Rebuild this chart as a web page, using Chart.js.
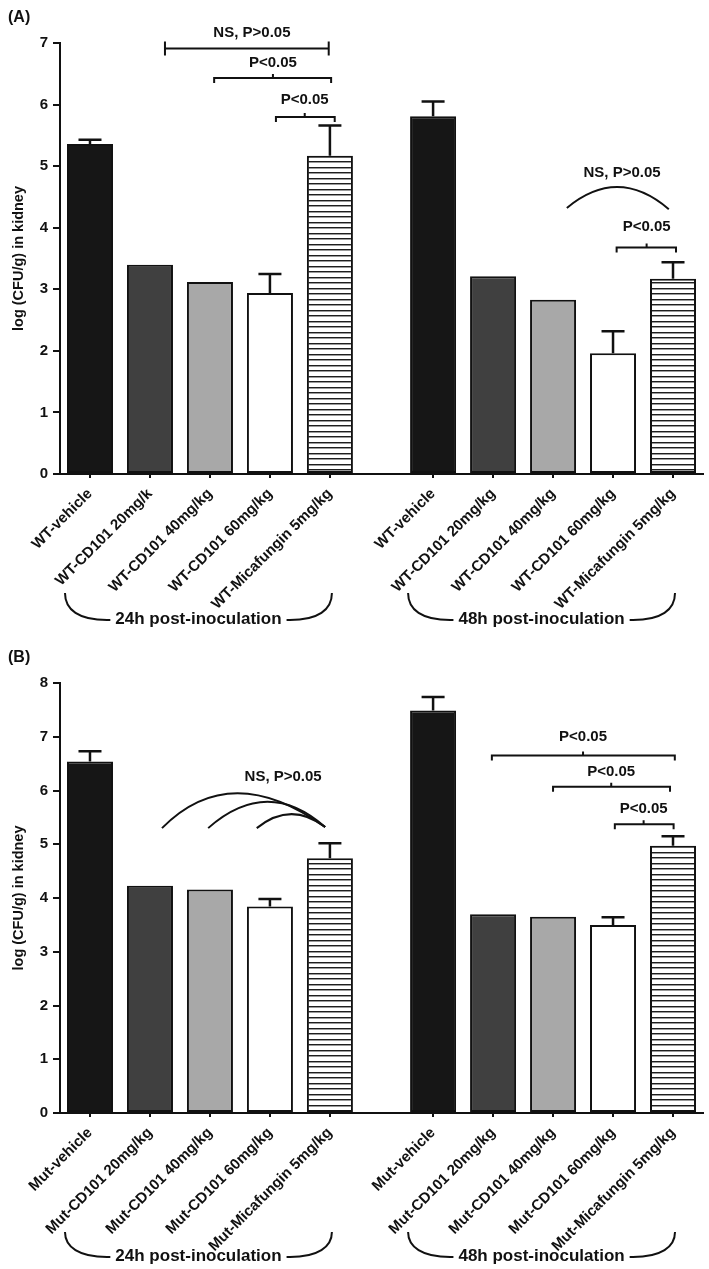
<!DOCTYPE html>
<html>
<head>
<meta charset="utf-8">
<script src="https://cdn.jsdelivr.net/npm/chart.js@4.4.1/dist/chart.umd.min.js"></script>
<style>
  body { margin: 0; background: #fff; }
  canvas { position: absolute; left: 0; }
  #chartA { top: 0; }
  #chartB { top: 630px; }
</style>
</head>
<body>
<canvas id="chartA" width="709" height="630"></canvas>
<canvas id="chartB" width="709" height="639"></canvas>
<script>
// categories
const labelsA = ['WT-vehicle', 'WT-CD101 20mg/k', 'WT-CD101 40mg/kg', 'WT-CD101 60mg/kg', 'WT-Micafungin 5mg/kg',
                 'WT-vehicle', 'WT-CD101 20mg/kg', 'WT-CD101 40mg/kg', 'WT-CD101 60mg/kg', 'WT-Micafungin 5mg/kg'];
const labelsB = ['Mut-vehicle', 'Mut-CD101 20mg/kg', 'Mut-CD101 40mg/kg', 'Mut-CD101 60mg/kg', 'Mut-Micafungin 5mg/kg',
                 'Mut-vehicle', 'Mut-CD101 20mg/kg', 'Mut-CD101 40mg/kg', 'Mut-CD101 60mg/kg', 'Mut-Micafungin 5mg/kg'];
const timeGroups = ['24h post-inoculation', '48h post-inoculation'];

// log(CFU/g) means and upper error (0 = no bar drawn)
const meansA = [5.36, 3.40, 3.12, 2.94, 5.17, 5.81, 3.21, 2.83, 1.96, 3.17];
const errA   = [0.07, 0, 0, 0.31, 0.49, 0.24, 0, 0, 0.36, 0.27];
const meansB = [6.54, 4.23, 4.16, 3.84, 4.74, 7.49, 3.70, 3.65, 3.50, 4.97];
const errB   = [0.19, 0, 0, 0.14, 0.28, 0.25, 0, 0, 0.14, 0.18];

const yMaxA = 7;
const yMaxB = 8;

// significance marks, in data units
const bracketsA = [
  { kind: 'cap', x1: 1.25, x2: 3.98, y: 6.91, tx: 2.70, ty: 7.16, text: 'NS, P>0.05' },
  { kind: 'brace', x1: 2.07, x2: 4.02, y: 6.43, tx: 3.05, ty: 6.67, text: 'P<0.05' },
  { kind: 'brace', x1: 3.10, x2: 4.08, y: 5.80, tx: 3.58, ty: 6.07, text: 'P<0.05' },
  { kind: 'brace', x1: 8.78, x2: 9.77, y: 3.68, tx: 9.28, ty: 4.01, text: 'P<0.05' }
];
const arcsA = [
  { x1: 7.95, y1: 4.32, x2: 9.65, y2: 4.30, px: 8.80, py: 4.66 }
];
const arcLabelA = { x: 8.87, y: 4.89, text: 'NS, P>0.05' };

const bracketsB = [
  { kind: 'brace', x1: 6.70, x2: 9.75, y: 6.65, tx: 8.22, ty: 6.99, text: 'P<0.05' },
  { kind: 'brace', x1: 7.72, x2: 9.67, y: 6.07, tx: 8.69, ty: 6.34, text: 'P<0.05' },
  { kind: 'brace', x1: 8.75, x2: 9.73, y: 5.37, tx: 9.23, ty: 5.65, text: 'P<0.05' }
];
const arcsB = [
  { x1: 1.20, y1: 5.30, x2: 3.92, y2: 5.32, px: 2.45, py: 5.95 },
  { x1: 1.97, y1: 5.30, x2: 3.92, y2: 5.32, px: 2.95, py: 5.79 },
  { x1: 2.78, y1: 5.30, x2: 3.92, y2: 5.32, px: 3.35, py: 5.56 }
];
const arcLabelB = { x: 3.22, y: 6.25, text: 'NS, P>0.05' };

const FONT = "'Liberation Sans', Arial, sans-serif";
const INK = '#111';
Chart.defaults.font.family = FONT;
Chart.defaults.color = INK;

// slot positions: two groups of five with a wider gap between them
const slots = meansA.map((_, i) => (i < 5 ? i : i + 0.72));

function stripes() {
  const c = document.createElement('canvas');
  c.width = 8; c.height = 11;
  const g = c.getContext('2d');
  g.fillStyle = '#fff';
  g.fillRect(0, 0, 8, 11);
  g.fillStyle = '#9a9a9a';
  g.fillRect(0, 3, 8, 1);
  g.fillRect(0, 8, 8, 1);
  g.fillStyle = '#1e1e1e';
  g.fillRect(0, 2, 8, 1);
  g.fillRect(0, 7, 8, 1);
  return g.createPattern(c, 'repeat');
}
const fills = ['#161616', '#404040', '#a8a8a8', '#ffffff', stripes()];

function annotate(panel, means, errs, brackets, arcs, arcLabel, braceDrop) {
  return {
    id: 'annotate',
    afterDatasetsDraw(chart) {
      const ctx = chart.ctx;
      const sx = chart.scales.x, sy = chart.scales.y;
      const px = v => sx.getPixelForValue(v);
      const py = v => sy.getPixelForValue(v);
      ctx.save();
      ctx.strokeStyle = INK;
      ctx.fillStyle = INK;
      ctx.lineCap = 'butt';

      // error bars (upper only)
      ctx.lineWidth = 2.5;
      means.forEach((m, i) => {
        if (!errs[i]) return;
        const cx = px(slots[i]);
        const top = py(m + errs[i]);
        ctx.beginPath();
        ctx.moveTo(cx, py(m));
        ctx.lineTo(cx, top);
        ctx.moveTo(cx - 11.5, top);
        ctx.lineTo(cx + 11.5, top);
        ctx.stroke();
      });

      // brackets
      ctx.lineWidth = 2;
      ctx.font = 'bold 15px ' + FONT;
      ctx.textAlign = 'center';
      ctx.textBaseline = 'middle';
      brackets.forEach(b => {
        const x1 = px(b.x1), x2 = px(b.x2), y = py(b.y);
        ctx.beginPath();
        ctx.moveTo(x1, y);
        ctx.lineTo(x2, y);
        if (b.kind === 'cap') {
          ctx.moveTo(x1, y - 7); ctx.lineTo(x1, y + 7);
          ctx.moveTo(x2, y - 7); ctx.lineTo(x2, y + 7);
        } else {
          ctx.moveTo(x1, y - 1); ctx.lineTo(x1, y + 5);
          ctx.moveTo(x2, y - 1); ctx.lineTo(x2, y + 5);
          const mx = px(b.tx);
          ctx.moveTo(mx, y + 1); ctx.lineTo(mx, y - 4);
        }
        ctx.stroke();
        ctx.fillText(b.text, px(b.tx), py(b.ty));
      });

      // arcs
      arcs.forEach(a => {
        const x1 = px(a.x1), y1 = py(a.y1), x2 = px(a.x2), y2 = py(a.y2);
        const cx = 2 * px(a.px) - (x1 + x2) / 2;
        const cy = 2 * py(a.py) - (y1 + y2) / 2;
        ctx.beginPath();
        ctx.moveTo(x1, y1);
        ctx.quadraticCurveTo(cx, cy, x2, y2);
        ctx.stroke();
      });
      if (arcLabel) ctx.fillText(arcLabel.text, px(arcLabel.x), py(arcLabel.y));
      ctx.restore();
    },
    afterDraw(chart) {
      const ctx = chart.ctx;
      const sx = chart.scales.x;
      const bottom = chart.chartArea.bottom;
      ctx.save();
      ctx.strokeStyle = INK;
      ctx.fillStyle = INK;
      ctx.lineWidth = 2;

      // panel letter
      ctx.font = 'bold 16px ' + FONT;
      ctx.textAlign = 'left';
      ctx.textBaseline = 'middle';
      ctx.fillText(panel, 8, chart.chartArea.top - 25);

      // time-point braces under the labels
      ctx.font = 'bold 17px ' + FONT;
      ctx.textAlign = 'center';
      timeGroups.forEach((t, g) => {
        const xL = sx.getPixelForValue(slots[g * 5]) - 25;
        const xR = sx.getPixelForValue(slots[g * 5 + 4]) + 2;
        const yTop = bottom + 119;
        const yBot = bottom + braceDrop;
        const mid = (xL + xR) / 2;
        const half = ctx.measureText(t).width / 2;
        ctx.beginPath();
        ctx.moveTo(xL, yTop);
        ctx.bezierCurveTo(xL, yBot - 10, xL + 14, yBot, xL + 42, yBot);
        ctx.lineTo(mid - half - 5, yBot);
        ctx.moveTo(xR, yTop);
        ctx.bezierCurveTo(xR, yBot - 10, xR - 14, yBot, xR - 42, yBot);
        ctx.lineTo(mid + half + 5, yBot);
        ctx.stroke();
        ctx.fillText(t, mid, yBot - 1);
      });
      ctx.restore();
    }
  };
}

function makeChart(id, panel, labels, means, errs, yMax, topPad, brackets, arcs, arcLabel, braceDrop) {
  return new Chart(document.getElementById(id), {
    type: 'bar',
    data: {
      datasets: [{
        data: means.map((v, i) => ({ x: slots[i], y: v })),
        backgroundColor: ctx => fills[ctx.dataIndex % 5],
        borderColor: INK,
        borderWidth: 2,
        borderSkipped: false,
        barPercentage: 0.767,
        categoryPercentage: 1
      }]
    },
    options: {
      responsive: false,
      animation: false,
      layout: { padding: { top: topPad, right: 6, left: 0, bottom: 0 } },
      plugins: { legend: { display: false }, tooltip: { enabled: false } },
      scales: {
        x: {
          type: 'linear',
          min: -0.5,
          max: 10.22,
          bounds: 'data',
          offset: false,
          grid: { offset: false, drawOnChartArea: false, tickLength: 4, color: INK, lineWidth: 2 },
          border: { color: INK, width: 2 },
          afterBuildTicks: s => { s.ticks = slots.map(v => ({ value: v })); },
          afterFit: s => { s.height = 156; },
          ticks: {
            autoSkip: false,
            minRotation: 45,
            maxRotation: 45,
            padding: 7,
            color: INK,
            font: { size: 15, weight: 'bold' },
            callback: (v, i) => labels[i]
          }
        },
        y: {
          min: 0,
          max: yMax,
          ticks: { stepSize: 1, padding: 5, color: INK, font: { size: 15, weight: 'bold' } },
          grid: { drawOnChartArea: false, tickLength: 7, color: INK, lineWidth: 2 },
          border: { color: INK, width: 2 },
          title: {
            display: true,
            text: 'log (CFU/g) in kidney',
            color: INK,
            font: { size: 14.5, weight: 'bold' },
            padding: { top: 10, bottom: 0 }
          },
          afterFit: s => { s.width = 60; }
        }
      }
    },
    plugins: [annotate(panel, means, errs, brackets, arcs, arcLabel, braceDrop)]
  });
}

makeChart('chartA', '(A)', labelsA, meansA, errA, yMaxA, 43, bracketsA, arcsA, arcLabelA, 146);
makeChart('chartB', '(B)', labelsB, meansB, errB, yMaxB, 53, bracketsB, arcsB, arcLabelB, 144);
</script>
</body>
</html>
